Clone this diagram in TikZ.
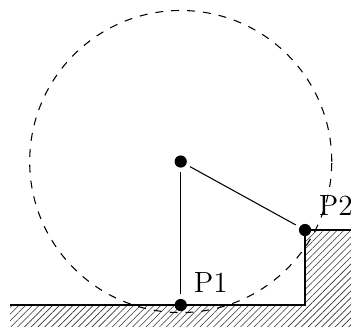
\documentclass[tikz,border=0pt]{standalone}
\usetikzlibrary{patterns.meta}
\begin{document}
\begin{tikzpicture}[
  dotnode/.style={circle, inner sep=0pt, minimum size=7.6pt,
    path picture={\fill (path picture bounding box.center) circle (2.3pt);}},
  lbl/.style={anchor=base west, inner sep=0pt, font=\fontsize{11}{13}\selectfont},
  hatch/.style={pattern={Lines[angle=45,distance=1.8pt,line width=0.22pt]}, pattern color=black!80}
]
\useasboundingbox (-2.393,-2.245) rectangle (2.255,2.139);
\clip (-2.393,-2.245) rectangle (2.255,2.139);
% ground with step
\fill[hatch] (-2.26,-1.9) -- (1.646,-1.9) -- (1.646,-0.907) -- (2.4,-0.907)
  -- (2.4,-2.19) -- (-2.26,-2.19) -- cycle;
\draw (-2.26,-1.9) -- (1.646,-1.9) -- (1.646,-0.907) -- (2.4,-0.907);
% circle
\draw[dashed] (0,0) circle (2);
% points
\node[dotnode] (c) at (0,0) {};
\node[dotnode] (p1) at (0,-1.9) {};
\node[dotnode] (p2) at (1.646,-0.907) {};
\draw (c) -- (p1);
\draw (c) -- (p2);
\node[lbl] (l1) at (0.167,-1.73) {P1};
\node[lbl] (l2) at (1.823,-0.718) {P2};
\end{tikzpicture}
\end{document}
